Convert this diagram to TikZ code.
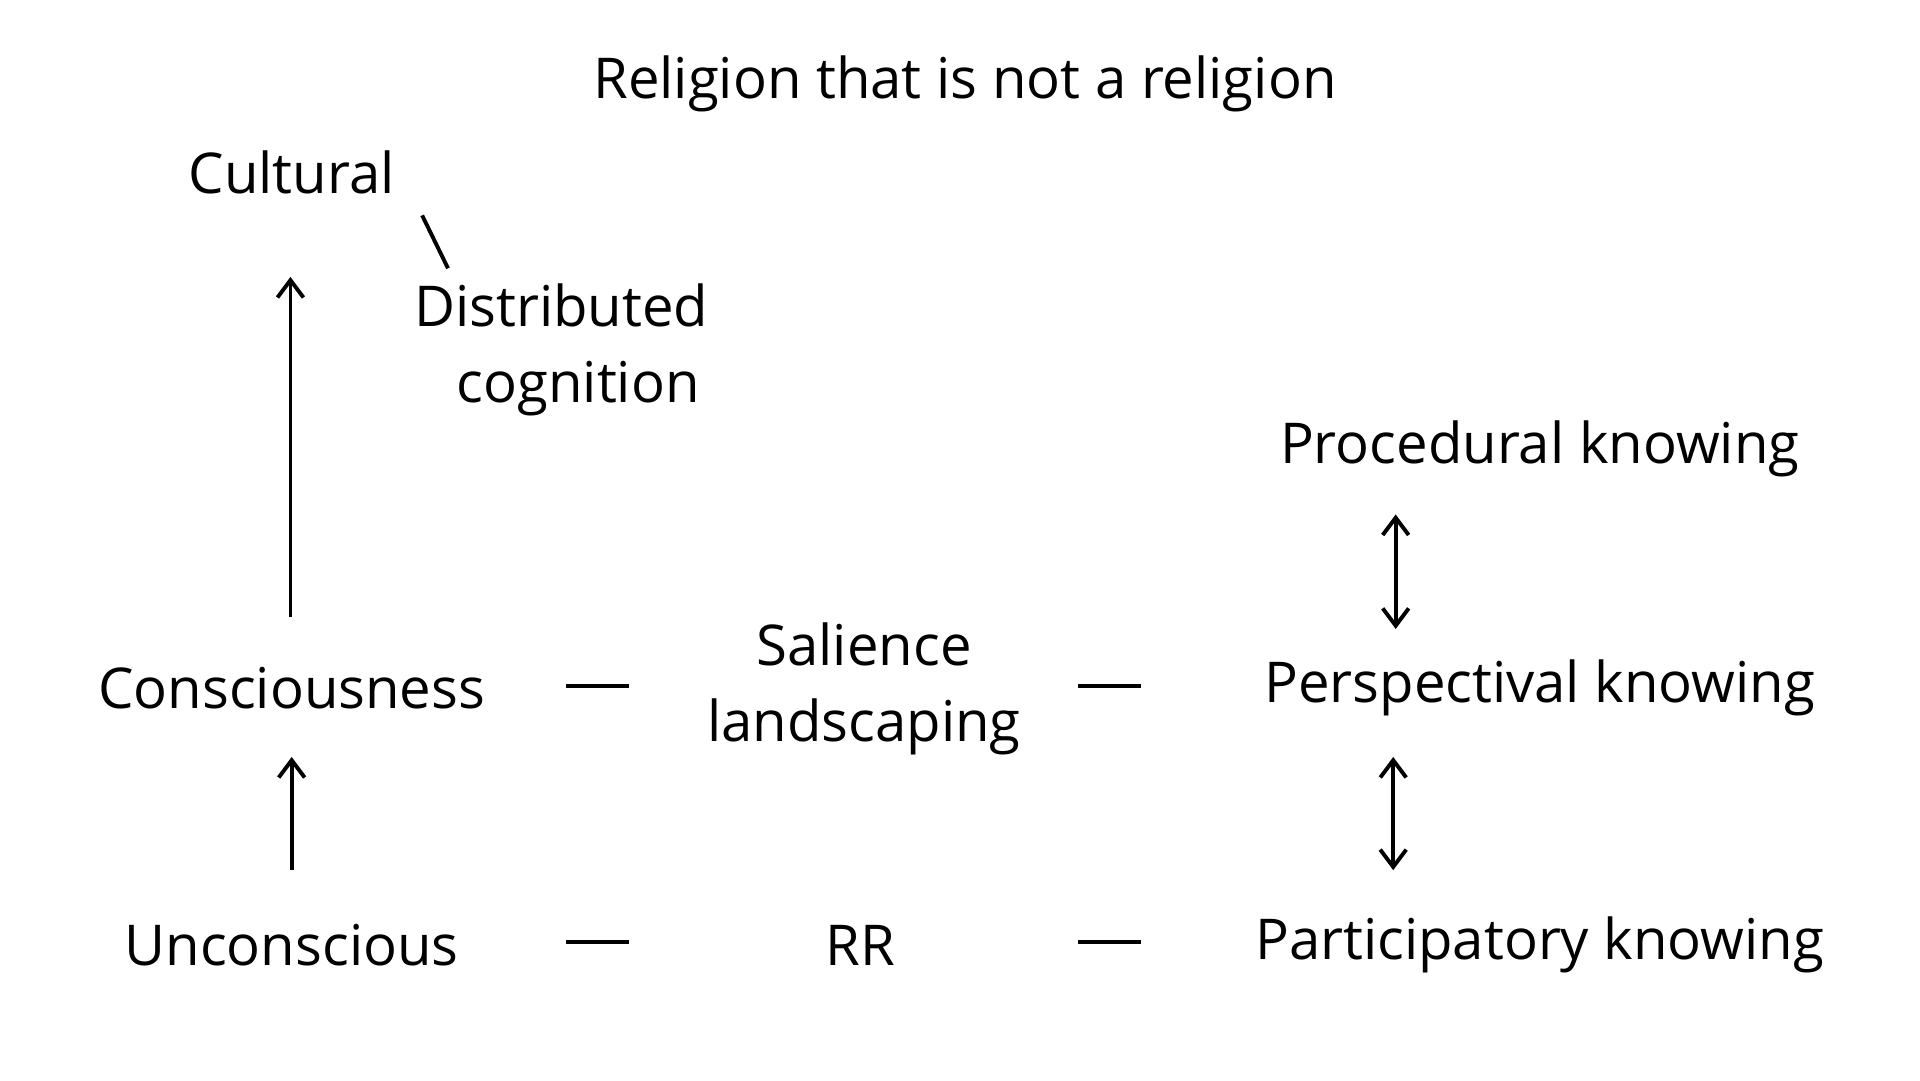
\documentclass[tikz,border=0pt]{standalone}
\usepackage{fontspec}
\setmainfont{Open Sans}
\usetikzlibrary{arrows.meta}
\begin{document}
\begin{tikzpicture}[x=0.01cm,y=-0.01cm,
  lbl/.style={font=\fontsize{13pt}{17.5pt}\selectfont,inner sep=0pt,align=center},
  ln/.style={line width=0.9pt},
  arr/.style={ln,-{Straight Barb[length=4pt,width=6pt]}},
  darr/.style={ln,{Straight Barb[length=4pt,width=6pt]}-{Straight Barb[length=4pt,width=6pt]}}]
\useasboundingbox (0,0) rectangle (1560,878);
\node[lbl] (title) at (784,68) {Religion that is not a religion};
\node[lbl] (cult) at (237,140) {Cultural};
\node[lbl] (dist) at (456,284) {Distributed\\\hspace*{0.6em}cognition};
\node[lbl] (cons) at (237,559) {Consciousness};
\node[lbl] (sal) at (702,560) {Salience\\landscaping};
\node[lbl] (persp) at (1251,559) {Perspectival knowing};
\node[lbl] (proc) at (1251,365) {Procedural knowing};
\node[lbl] (part) at (1251,768) {Participatory knowing};
\node[lbl] (unc) at (237,768) {Unconscious};
\node[lbl] (rr) at (699,768) {RR};
\coordinate (b1) at (343,175); \coordinate (b2) at (364,218);
\draw[ln] (b1) -- (b2);
\coordinate (a1) at (236,501); \coordinate (a2) at (236,225);
\draw[arr] (a1) -- (a2);
\coordinate (a3) at (237,707); \coordinate (a4) at (237,615);
\draw[arr] (a3) -- (a4);
\coordinate (d1) at (1134,418); \coordinate (d2) at (1134,511);
\draw[darr] (d1) -- (d2);
\coordinate (d3) at (1132,615); \coordinate (d4) at (1132,707);
\draw[darr] (d3) -- (d4);
\foreach \y in {557,765}{
  \draw[ln] (460,\y) -- (511,\y);
  \draw[ln] (876,\y) -- (927,\y);
}
\end{tikzpicture}
\end{document}
